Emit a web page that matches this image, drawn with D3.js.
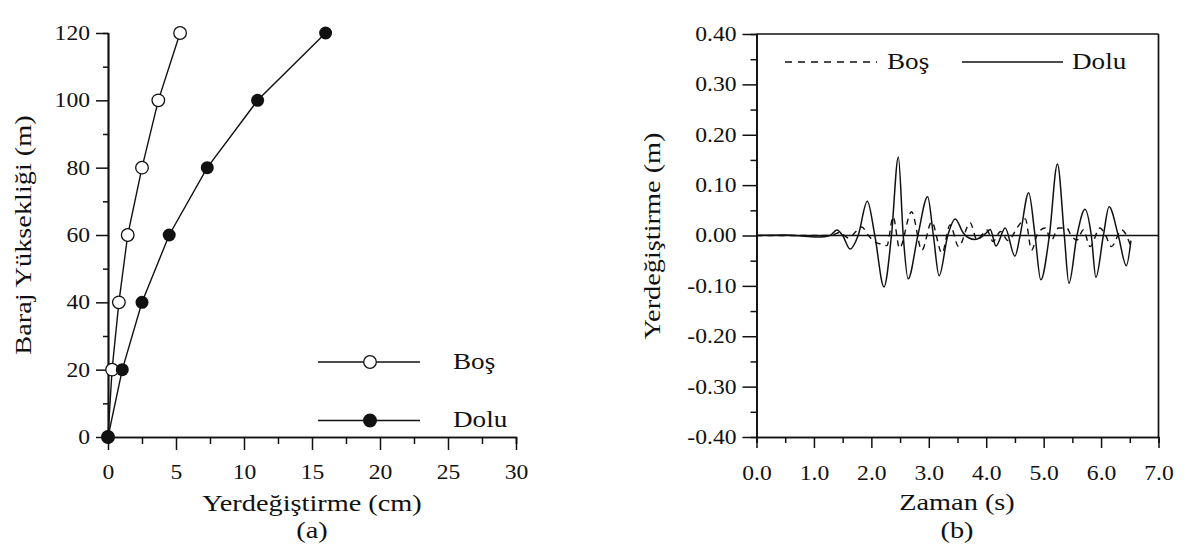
<!DOCTYPE html>
<html>
<head>
<meta charset="utf-8">
<script src="https://cdn.jsdelivr.net/npm/d3@7"></script>
<style>
  html, body { margin: 0; padding: 0; background: #fff; }
  svg { display: block; }
  text { font-family: "Liberation Serif", "Times New Roman", serif; fill: #111; }
</style>
</head>
<body>
<svg id="chart" width="1188" height="551"></svg>
<script>
// ---------- DATA ----------
// (a) dam height vs displacement
const heights = [0, 20, 40, 60, 80, 100, 120];
const bosDisp = [0, 0.3, 0.8, 1.45, 2.5, 3.7, 5.3];
const doluDisp = [0, 1.05, 2.5, 4.5, 7.3, 11.0, 16.0];
const xTicksA = [0, 5, 10, 15, 20, 25, 30];
const xTickLabelsA = ["0", "5", "10", "15", "20", "25", "30"];
const yTicksA = [0, 20, 40, 60, 80, 100, 120];
const yTickLabelsA = ["0", "20", "40", "60", "80", "100", "120"];

// (b) crest displacement time history
const doluTime = [0, 0.5, 0.9, 1.1, 1.28, 1.40, 1.50, 1.63, 1.77, 1.93, 2.06, 2.22, 2.35, 2.47, 2.555, 2.64, 2.81, 2.98, 3.08, 3.18, 3.33, 3.46, 3.60, 3.70, 3.80, 3.90, 4.00, 4.07, 4.17, 4.33, 4.50, 4.59, 4.74, 4.85, 4.95, 5.10, 5.24, 5.36, 5.44, 5.58, 5.72, 5.83, 5.91, 6.04, 6.14, 6.30, 6.44, 6.52];
const doluVal  = [0, 0.001, -0.002, -0.003, 0.0, 0.011, 0.0, -0.027, 0.0, 0.068, 0.0, -0.102, 0.0, 0.156, 0.0, -0.086, 0.0, 0.077, 0.0, -0.080, 0.0, 0.033, 0.005, -0.005, -0.008, -0.004, 0.005, 0.012, -0.021, 0.015, -0.041, 0.0, 0.085, 0.0, -0.088, 0.0, 0.142, 0.0, -0.095, 0.0, 0.052, 0.0, -0.083, 0.0, 0.057, 0.0, -0.060, -0.01];
const bosTime = [0, 1.3, 1.45, 1.6, 1.75, 1.83, 1.95, 2.05, 2.2, 2.27, 2.38, 2.49, 2.70, 2.88, 3.05, 3.23, 3.37, 3.52, 3.72, 3.84, 4.01, 4.12, 4.25, 4.38, 4.56, 4.68, 4.79, 4.90, 5.03, 5.13, 5.26, 5.40, 5.48, 5.58, 5.69, 5.81, 5.98, 6.08, 6.18, 6.36, 6.51];
const bosVal  = [0, 0, 0.006, -0.005, 0.01, 0.017, 0.0, -0.012, -0.018, -0.02, 0.037, -0.025, 0.047, -0.029, 0.027, -0.035, 0.021, -0.022, 0.025, -0.009, 0.011, -0.012, 0.008, -0.010, 0.019, 0.033, -0.029, 0.005, 0.015, -0.01, 0.015, 0.015, 0.0, -0.009, 0.011, -0.022, 0.015, 0.0, -0.022, 0.011, -0.019];
const xTicksB = [0, 1, 2, 3, 4, 5, 6, 7];
const xTickLabelsB = ["0.0", "1.0", "2.0", "3.0", "4.0", "5.0", "6.0", "7.0"];
const yTicksB = [-0.4, -0.3, -0.2, -0.1, 0, 0.1, 0.2, 0.3, 0.4];
const yTickLabelsB = ["-0.40", "-0.30", "-0.20", "-0.10", "0.00", "0.10", "0.20", "0.30", "0.40"];

const seriesNames = ["Boş", "Dolu"];

// ---------- DRAW ----------
const svg = d3.select("#chart");
const SX = 1.18; // horizontal stretch of the scanned glyphs
const ink = "#111";

function label(x, y, str, size, anchor, rot) {
  return svg.append("text")
    .attr("transform", `translate(${x},${y})` + (rot ? ` rotate(${rot})` : "") + ` scale(${SX},1)`)
    .attr("text-anchor", anchor || "middle")
    .attr("font-size", size)
    .text(str);
}
function styleAxis(g) {
  g.select(".domain").attr("stroke", ink).attr("stroke-width", 1.7);
  g.selectAll(".tick line").attr("stroke", ink).attr("stroke-width", 1.5);
}

// ===== Panel (a) =====
const xA = d3.scaleLinear().domain([0, 30]).range([108, 516]);
const yA = d3.scaleLinear().domain([0, 120]).range([437, 33]);

// minor ticks
svg.append("g").attr("transform", "translate(0,437)")
  .call(d3.axisBottom(xA).tickValues(d3.range(2.5, 30, 5)).tickSize(7).tickFormat(""))
  .call(styleAxis);
svg.append("g").attr("transform", "translate(108,0)")
  .call(d3.axisLeft(yA).tickValues(d3.range(10, 120, 20)).tickSize(5).tickFormat(""))
  .call(styleAxis);
// major ticks
const gxA = svg.append("g").attr("transform", "translate(0,437)")
  .call(d3.axisBottom(xA).tickValues(xTicksA).tickSize(13).tickSizeOuter(0)
    .tickFormat((d, i) => xTickLabelsA[i]))
  .call(styleAxis);
gxA.selectAll("text").attr("y", null).attr("dy", null)
  .attr("transform", `translate(0,42) scale(${SX},1)`)
  .attr("font-size", 20).attr("font-family", "Liberation Serif").attr("fill", ink);
const gyA = svg.append("g").attr("transform", "translate(108,0)")
  .call(d3.axisLeft(yA).tickValues(yTicksA).tickSize(12).tickSizeOuter(0)
    .tickFormat((d, i) => yTickLabelsA[i]))
  .call(styleAxis);
gyA.selectAll("text").attr("x", null)
  .attr("transform", `translate(-18,0) scale(${SX},1)`)
  .attr("font-size", 20).attr("font-family", "Liberation Serif").attr("fill", ink);

const lineA = d3.line().x(d => xA(d[0])).y(d => yA(d[1]));
const bosPts = heights.map((h, i) => [bosDisp[i], h]);
const doluPts = heights.map((h, i) => [doluDisp[i], h]);
svg.append("path").datum(bosPts).attr("d", lineA)
  .attr("fill", "none").attr("stroke", ink).attr("stroke-width", 1.4);
svg.append("path").datum(doluPts).attr("d", lineA)
  .attr("fill", "none").attr("stroke", ink).attr("stroke-width", 1.4);
svg.append("g").selectAll("circle").data(bosPts).join("circle")
  .attr("cx", d => xA(d[0])).attr("cy", d => yA(d[1])).attr("r", 6.3)
  .attr("fill", "#fff").attr("stroke", ink).attr("stroke-width", 1.3);
svg.append("g").selectAll("circle").data(doluPts).join("circle")
  .attr("cx", d => xA(d[0])).attr("cy", d => yA(d[1])).attr("r", 6.5)
  .attr("fill", ink);

// legend (a)
[[362, false], [420.5, true]].forEach(([ly, filled], i) => {
  svg.append("line").attr("x1", 318).attr("x2", 420).attr("y1", ly).attr("y2", ly)
    .attr("stroke", ink).attr("stroke-width", 1.4);
  svg.append("circle").attr("cx", 370).attr("cy", ly).attr("r", 6.3)
    .attr("fill", filled ? ink : "#fff").attr("stroke", ink).attr("stroke-width", 1.3);
  label(453, ly + 6.5, seriesNames[i], 23, "start");
});

label(31, 235, "Baraj Yüksekliği (m)", 24, "middle", -90);
label(312, 511, "Yerdeğiştirme (cm)", 24, "middle");
label(312, 538, "(a)", 24, "middle");

// ===== Panel (b) =====
const xB = d3.scaleLinear().domain([0, 7]).range([756.5, 1158.5]);
const yB = d3.scaleLinear().domain([-0.4, 0.4]).range([437, 34]);

svg.append("g").attr("transform", "translate(0,437)")
  .call(d3.axisBottom(xB).tickValues(d3.range(0.5, 7, 1)).tickSize(6).tickFormat(""))
  .call(styleAxis);
svg.append("g").attr("transform", "translate(756.5,0)")
  .call(d3.axisLeft(yB).tickValues(d3.range(-0.35, 0.4, 0.1)).tickSize(6).tickFormat(""))
  .call(styleAxis);
const gxB = svg.append("g").attr("transform", "translate(0,437)")
  .call(d3.axisBottom(xB).tickValues(xTicksB).tickSize(11).tickSizeOuter(0)
    .tickFormat((d, i) => xTickLabelsB[i]))
  .call(styleAxis);
gxB.selectAll("text").attr("y", null).attr("dy", null)
  .attr("transform", `translate(0,43) scale(${SX},1)`)
  .attr("font-size", 20).attr("font-family", "Liberation Serif").attr("fill", ink);
const gyB = svg.append("g").attr("transform", "translate(756.5,0)")
  .call(d3.axisLeft(yB).tickValues(yTicksB).tickSize(14).tickSizeOuter(0)
    .tickFormat((d, i) => yTickLabelsB[i]))
  .call(styleAxis);
gyB.selectAll("text").attr("x", null)
  .attr("transform", `translate(-20,0) scale(${SX},1)`)
  .attr("font-size", 20).attr("font-family", "Liberation Serif").attr("fill", ink);

// frame top/right
svg.append("line").attr("x1", xB(0)).attr("x2", xB(7)).attr("y1", yB(0.4)).attr("y2", yB(0.4))
  .attr("stroke", ink).attr("stroke-width", 1.7);
svg.append("line").attr("x1", xB(7)).attr("x2", xB(7)).attr("y1", yB(0.4)).attr("y2", yB(-0.4))
  .attr("stroke", ink).attr("stroke-width", 1.7);
// zero line
svg.append("line").attr("x1", xB(0)).attr("x2", xB(7)).attr("y1", yB(0)).attr("y2", yB(0))
  .attr("stroke", ink).attr("stroke-width", 1.3);

const lineB = d3.line().x(d => xB(d[0])).y(d => yB(d[1])).curve(d3.curveMonotoneX);
svg.append("path").datum(bosTime.map((t, i) => [t, bosVal[i]])).attr("d", lineB)
  .attr("fill", "none").attr("stroke", ink).attr("stroke-width", 1.4)
  .attr("stroke-dasharray", "6,5");
svg.append("path").datum(doluTime.map((t, i) => [t, doluVal[i]])).attr("d", lineB)
  .attr("fill", "none").attr("stroke", ink).attr("stroke-width", 1.5);

// legend (b)
svg.append("line").attr("x1", 785).attr("x2", 877).attr("y1", 62).attr("y2", 62)
  .attr("stroke", ink).attr("stroke-width", 1.4).attr("stroke-dasharray", "7,6");
label(887, 69, seriesNames[0], 23, "start");
svg.append("line").attr("x1", 962).attr("x2", 1063).attr("y1", 62).attr("y2", 62)
  .attr("stroke", ink).attr("stroke-width", 1.4);
label(1072, 69, seriesNames[1], 23, "start");

label(660, 236, "Yerdeğiştirme (m)", 24, "middle", -90);
label(957, 510, "Zaman (s)", 24, "middle");
label(957, 538, "(b)", 24, "middle");
</script>
</body>
</html>
